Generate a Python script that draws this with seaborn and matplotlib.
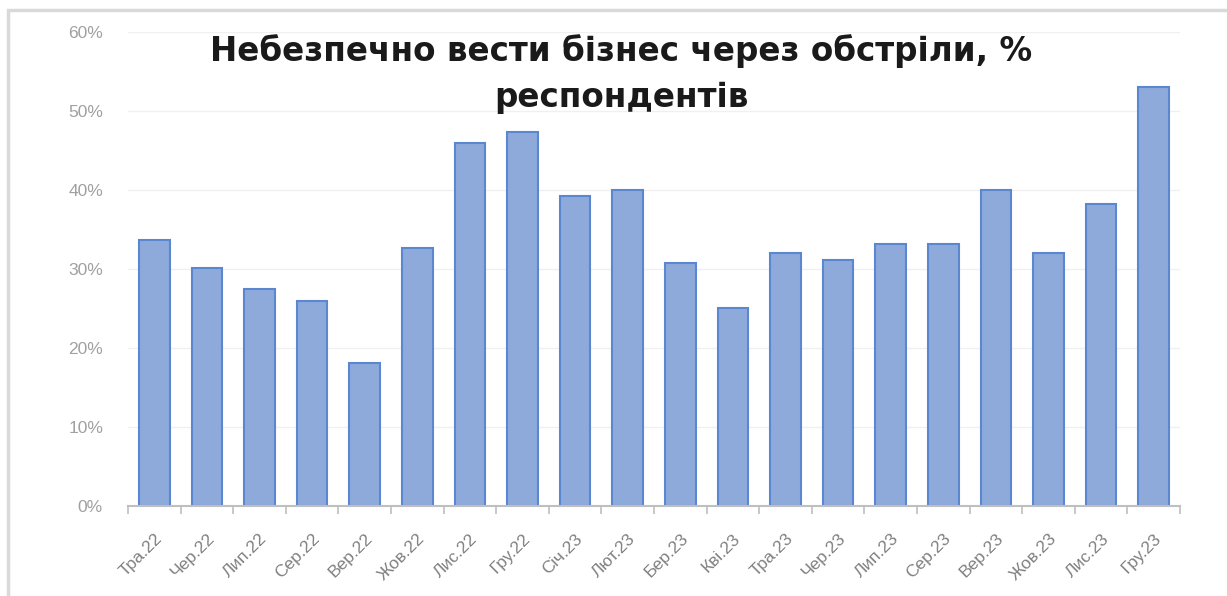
import matplotlib
matplotlib.use("Agg")
import matplotlib.pyplot as plt
import numpy as np
import pandas as pd
import seaborn as sns
from matplotlib.patches import Rectangle
from matplotlib.ticker import PercentFormatter

months = ["Тра.22", "Чер.22", "Лип.22", "Сер.22", "Вер.22", "Жов.22", "Лис.22", "Гру.22",
          "Січ.23", "Лют.23", "Бер.23", "Кві.23", "Тра.23", "Чер.23", "Лип.23", "Сер.23",
          "Вер.23", "Жов.23", "Лис.23", "Гру.23"]
share = [33.7, 30.1, 27.5, 25.9, 18.1, 32.7, 45.9, 47.3,
         39.2, 40.0, 30.8, 25.1, 32.0, 31.1, 33.2, 33.2,
         40.0, 32.0, 38.2, 53.0]
title = "Небезпечно вести бізнес через обстріли, %\nреспондентів"

df = pd.DataFrame({"month": months, "share": share})

sns.set_theme(style="white")
plt.rcParams["font.family"] = ["Liberation Sans", "DejaVu Sans"]

fig = plt.figure(figsize=(12.27, 5.96), dpi=100)
ax = fig.add_axes([128 / 1227, 1 - 506 / 596, (1180 - 128) / 1227, (506 - 32) / 596])

# outer chart frame
fig.patches.append(Rectangle((8 / 1227, -0.1), 1.2, 1 - 10 / 596 + 0.1,
                             transform=fig.transFigure, fill=False,
                             edgecolor="#d9d9d9", linewidth=2.5))

sns.barplot(data=df, x="month", y="share", ax=ax, color="#8eaadb",
            edgecolor="#5b86d0", linewidth=1.5, width=0.58, saturation=1)

ax.set_ylim(0, 60)
ax.set_yticks(range(0, 61, 10))
ax.yaxis.set_major_formatter(PercentFormatter(decimals=0))
ax.grid(axis="y", color="#f0f0f0", linewidth=1)
ax.set_axisbelow(True)
ax.set_xlim(-0.5, len(months) - 0.5)
ax.set_xlabel("")
ax.set_ylabel("")
for s in ["top", "right", "left"]:
    ax.spines[s].set_visible(False)
ax.spines["bottom"].set_color("#bfbfbf")
ax.spines["bottom"].set_linewidth(1.5)
ax.tick_params(axis="y", colors="#a0a0a0", labelsize=12.5, length=0, pad=18)
# category labels centred, tick marks between categories
ax.set_xticks(np.arange(-0.5, len(months)), minor=True)
ax.tick_params(axis="x", which="major", labelcolor="#808080", labelsize=12.5,
               length=0, pad=18)
ax.tick_params(axis="x", which="minor", color="#bfbfbf", length=6, width=1.2,
               bottom=True)
plt.setp(ax.get_xticklabels(), rotation=45, ha="right", rotation_mode="anchor")

ax.text(0.469, 0.995, title, transform=ax.transAxes, ha="center", va="top",
        fontsize=23.5, fontweight="bold", color="#1a1a1a", linespacing=1.5,
        family="DejaVu Sans")

fig.savefig("out.png", dpi=100, facecolor="white")
